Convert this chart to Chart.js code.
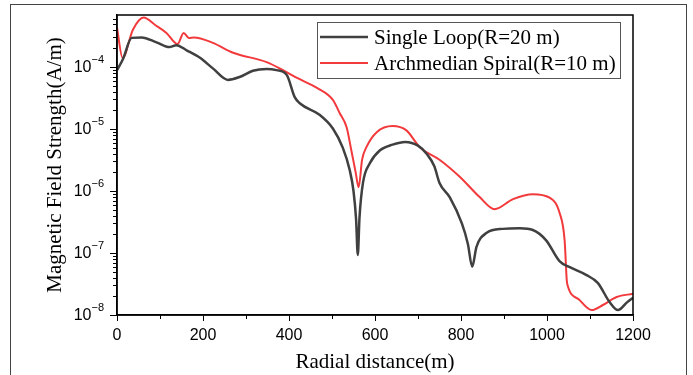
<!DOCTYPE html>
<html>
<head>
<meta charset="utf-8">
<script src="https://cdn.jsdelivr.net/npm/chart.js@4.4.0/dist/chart.umd.min.js"></script>
<style>
html, body { margin: 0; padding: 0; background: #fff; }
</style>
</head>
<body>
<canvas id="myChart" width="693" height="375"></canvas>
<script>
// Single Loop (R=20 m)
const loopDist = [0, 14, 34, 57, 92, 122, 138, 162, 193, 223, 258, 285, 316, 348, 371, 395, 413, 425, 471, 502, 525, 541, 550, 556, 560, 564, 572, 588, 611, 641, 670, 700, 720, 738, 750, 774, 802, 816, 826, 836, 859, 897, 937, 967, 998, 1029, 1053, 1092, 1118, 1146, 1165, 1186, 1200];
const loopField = [8.9e-5, 1.35e-4, 2.95e-4, 3.0e-4, 2.5e-4, 2.1e-4, 2.25e-4, 1.86e-4, 1.41e-4, 9.5e-5, 6.2e-5, 6.9e-5, 8.7e-5, 9.3e-5, 8.9e-5, 7.4e-5, 3.3e-5, 2.6e-5, 1.7e-5, 1.02e-5, 5.0e-6, 2.2e-6, 1.0e-6, 3.5e-7, 9.3e-8, 3.8e-7, 1.35e-6, 2.8e-6, 4.5e-6, 5.6e-6, 6.2e-6, 5.4e-6, 4.0e-6, 2.5e-6, 1.35e-6, 7.9e-7, 3.0e-7, 1.4e-7, 6.0e-8, 1.26e-7, 2.1e-7, 2.45e-7, 2.5e-7, 2.35e-7, 1.6e-7, 7.4e-8, 5.9e-8, 4.4e-8, 3.3e-8, 1.6e-8, 1.2e-8, 1.6e-8, 1.9e-8];

// Archmedian Spiral (R=10 m)
const spiralDist = [0, 13, 37, 62, 88, 115, 141, 155, 167, 179, 223, 270, 348, 386, 420, 465, 502, 518, 534, 545, 555, 562, 570, 580, 604, 641, 673, 704, 750, 797, 844, 878, 921, 967, 1006, 1029, 1041, 1046, 1048, 1076, 1104, 1130, 1162, 1200];
const spiralField = [4.3e-4, 1.4e-4, 4.0e-4, 6.3e-4, 4.8e-4, 3.55e-4, 2.35e-4, 3.55e-4, 2.95e-4, 3.0e-4, 2.45e-4, 1.7e-4, 1.2e-4, 8.9e-5, 6.6e-5, 4.6e-5, 2.95e-5, 1.8e-5, 1.07e-5, 4.5e-6, 2.0e-6, 1.15e-6, 3.2e-6, 5.1e-6, 8.9e-6, 1.12e-5, 9.5e-6, 5.1e-6, 3.2e-6, 1.7e-6, 7.9e-7, 5.1e-7, 7.4e-7, 8.9e-7, 7.8e-7, 4.5e-7, 1.6e-7, 3.6e-8, 3.0e-8, 1.74e-8, 1.2e-8, 1.45e-8, 1.95e-8, 2.2e-8];

const seriesLabels = ['Single Loop(R=20 m)', 'Archmedian Spiral(R=10 m)'];
const xMinorTicks = [100, 300, 500, 700, 900, 1100];
const yTickExps = [-8, -7, -6, -5, -4];
const yMinorMults = [2, 3, 4, 5, 6, 7, 8, 9];

const SERIF = '"Liberation Serif", "Times New Roman", serif';
const SANS = '"Liberation Sans", Arial, sans-serif';

function toPoints(xs, ys) {
    return xs.map((v, i) => ({x: v, y: ys[i]}));
}

// frame, minor ticks, y labels with exponents, legend, outer border
const extras = {
    id: 'extras',
    afterDraw(chart) {
        const {ctx, chartArea: a, scales: {x, y}} = chart;
        ctx.save();
        ctx.strokeStyle = '#000';
        ctx.lineWidth = 1.5;
        ctx.strokeRect(a.left, a.top, a.right - a.left, a.bottom - a.top);

        ctx.lineWidth = 1;
        ctx.beginPath();
        xMinorTicks.forEach(v => {
            const px = Math.round(x.getPixelForValue(v)) + 0.5;
            ctx.moveTo(px, a.bottom);
            ctx.lineTo(px, a.bottom + 4);
        });
        yTickExps.forEach(e => {
            yMinorMults.forEach(k => {
                const v = k * Number('1e' + e);
                if (v > y.max) return;
                const py = Math.round(y.getPixelForValue(v)) + 0.5;
                ctx.moveTo(a.left, py);
                ctx.lineTo(a.left - 4, py);
            });
        });
        ctx.stroke();

        // y tick labels 10^n
        ctx.fillStyle = '#000';
        ctx.textBaseline = 'middle';
        ctx.textAlign = 'right';
        yTickExps.forEach(e => {
            const py = y.getPixelForValue(Number('1e' + e));
            const expText = '\u2212' + Math.abs(e);
            ctx.font = '11px ' + SANS;
            const w = ctx.measureText(expText).width;
            ctx.fillText(expText, 104, py - 7);
            ctx.font = '16px ' + SANS;
            ctx.fillText('10', 104 - w, py + 1);
        });

        // legend
        ctx.strokeStyle = '#555';
        ctx.lineWidth = 1;
        ctx.strokeRect(317.5, 22.5, 303, 56);
        ctx.textAlign = 'left';
        ctx.font = '21px ' + SERIF;
        chart.data.datasets.forEach((ds, i) => {
            const ly = 37 + i * 26;
            ctx.strokeStyle = ds.borderColor;
            ctx.lineWidth = ds.borderWidth;
            ctx.beginPath();
            ctx.moveTo(320, ly);
            ctx.lineTo(368, ly);
            ctx.stroke();
            ctx.fillStyle = '#000';
            ctx.fillText(ds.label, 374, ly + 1);
        });

        // outer figure border
        ctx.strokeStyle = '#444';
        ctx.lineWidth = 1;
        ctx.strokeRect(10.5, 4.5, 676, 400);
        ctx.restore();
    }
};

const config = {
    type: 'line',
    data: {
        datasets: [{
            label: seriesLabels[0],
            data: toPoints(loopDist, loopField),
            borderColor: '#404040',
            borderWidth: 2.5,
            pointRadius: 0,
            cubicInterpolationMode: 'monotone'
        }, {
            label: seriesLabels[1],
            data: toPoints(spiralDist, spiralField),
            borderColor: '#f23a3c',
            borderWidth: 2,
            pointRadius: 0,
            cubicInterpolationMode: 'monotone'
        }]
    },
    options: {
        responsive: false,
        animation: false,
        layout: {
            padding: {top: 15, right: 60, left: 0, bottom: 0}
        },
        plugins: {
            legend: {display: false},
            tooltip: {enabled: false}
        },
        scales: {
            x: {
                type: 'linear',
                min: 0,
                max: 1200,
                afterFit: scale => { scale.height = 60; },
                ticks: {
                    stepSize: 200,
                    color: '#000',
                    padding: 5,
                    font: {family: SANS, size: 16},
                    callback: v => String(v)
                },
                grid: {
                    drawOnChartArea: false,
                    tickLength: 6,
                    color: '#000'
                },
                border: {color: '#000', width: 1.5},
                title: {
                    display: true,
                    text: 'Radial distance(m)',
                    color: '#000',
                    padding: {top: 0, bottom: 0},
                    font: {family: SERIF, size: 21}
                }
            },
            y: {
                type: 'logarithmic',
                min: 1e-8,
                max: 6.9e-4,
                afterFit: scale => { scale.width = 117; },
                afterBuildTicks: scale => {
                    scale.ticks = yTickExps.map(e => ({value: Number('1e' + e)}));
                },
                ticks: {display: false},
                grid: {
                    drawOnChartArea: false,
                    tickLength: 7,
                    color: '#000'
                },
                border: {color: '#000', width: 1.5},
                title: {
                    display: true,
                    text: 'Magnetic Field Strength(A/m)',
                    color: '#000',
                    padding: {top: 43, bottom: 0},
                    font: {family: SERIF, size: 21}
                }
            }
        }
    },
    plugins: [extras]
};

var myChart = new Chart(document.getElementById('myChart'), config);
</script>
</body>
</html>
